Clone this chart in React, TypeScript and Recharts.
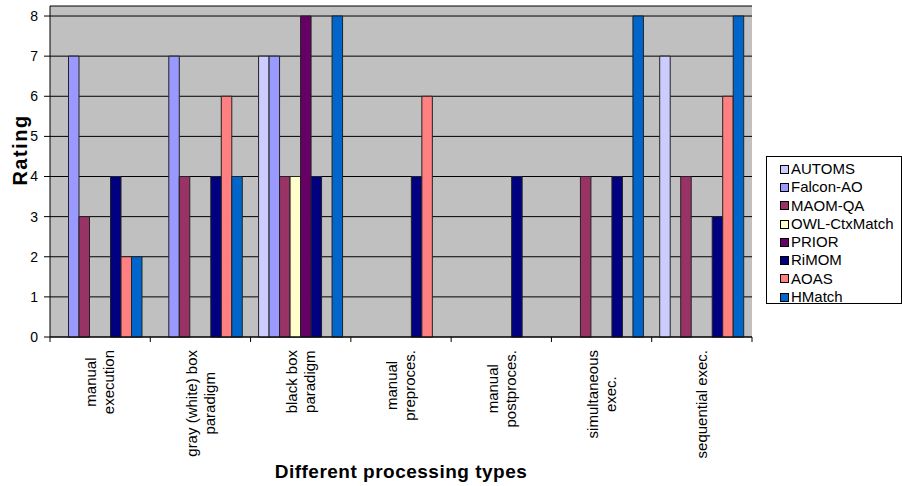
import React from "react";
import { BarChart, Bar, XAxis, YAxis, CartesianGrid } from "recharts";

const categories = [
  "manual execution",
  "gray (white) box paradigm",
  "black box paradigm",
  "manual preproces.",
  "manual postproces.",
  "simultaneous exec.",
  "sequential exec."
];

// how each category label is broken into lines under the axis
const tickLabels = [
  ["manual", "execution"],
  ["gray (white) box", "paradigm"],
  ["black box", "paradigm"],
  ["manual", "preproces."],
  ["manual", "postproces."],
  ["simultaneous", "exec."],
  ["sequential exec."]
];

const seriesNames = ["AUTOMS", "Falcon-AO", "MAOM-QA", "OWL-CtxMatch", "PRIOR", "RiMOM", "AOAS", "HMatch"];
const seriesColors = ["#CCCCFF", "#9999FF", "#993366", "#FFFFCC", "#660066", "#000080", "#FF8080", "#0066CC"];

const automs = [0, 0, 7, 0, 0, 0, 7];
const falconAO = [7, 7, 7, 0, 0, 0, 0];
const maomQA = [3, 4, 4, 0, 0, 4, 4];
const owlCtxMatch = [0, 0, 4, 0, 0, 0, 0];
const prior = [0, 0, 8, 0, 0, 0, 0];
const rimom = [4, 4, 4, 4, 4, 4, 3];
const aoas = [2, 6, 0, 6, 0, 0, 6];
const hmatch = [2, 4, 8, 0, 0, 8, 8];

const seriesValues = [automs, falconAO, maomQA, owlCtxMatch, prior, rimom, aoas, hmatch];

const yTicks = [0, 1, 2, 3, 4, 5, 6, 7, 8];

const rows = categories.map((name, i) => {
  const row: { [key: string]: string | number } = { name };
  seriesNames.forEach((s, j) => {
    row[s] = seriesValues[j][i];
  });
  return row;
});

const FONT = "'Liberation Sans', Arial, sans-serif";
const W = 902;
const H = 486;
const MARGIN = { top: 6, right: 150, bottom: 0, left: 0 };
const Y_AXIS_W = 50;
const X_AXIS_H = 149;
const TICK_FONT = 15;
const LINE_H = 18;

let ctx: CanvasRenderingContext2D | null = null;
function textWidth(s: string) {
  if (!ctx) ctx = document.createElement("canvas").getContext("2d");
  if (!ctx) return s.length * 7.5;
  ctx.font = `${TICK_FONT}px 'Liberation Sans'`;
  return ctx.measureText(s).width;
}

function CategoryTick(props: any) {
  const { x, y, payload, index } = props;
  const plotW = W - MARGIN.left - MARGIN.right - Y_AXIS_W;
  const half = payload && payload.offset ? payload.offset : plotW / categories.length / 2;
  const lines = tickLabels[index] || [String(payload.value)];
  const maxLen = Math.max(...lines.map(textWidth));
  const cy = y + 13 + maxLen / 2;
  const n = lines.length;
  return (
    <g>
      <line x1={x - half} x2={x - half} y1={y} y2={y + 5} stroke="#000" />
      {index === categories.length - 1 && (
        <line x1={x + half} x2={x + half} y1={y} y2={y + 5} stroke="#000" />
      )}
      <g transform={`translate(${x}, ${cy}) rotate(-90)`}>
        {lines.map((ln, i) => (
          <text
            key={i}
            x={0}
            y={(i - (n - 1) / 2) * LINE_H + TICK_FONT * 0.35}
            textAnchor="middle"
            fontSize={TICK_FONT}
            fontFamily={FONT}
            fill="#000"
          >
            {ln}
          </text>
        ))}
      </g>
    </g>
  );
}

function Legend8() {
  return (
    <div
      style={{
        position: "absolute",
        left: 766,
        top: 156,
        width: 136,
        height: 148,
        boxSizing: "border-box",
        border: "1px solid #000",
        background: "#fff",
        paddingTop: 3,
        paddingLeft: 13,
        fontFamily: FONT,
        fontSize: 15
      }}
    >
      {seriesNames.map((s, i) => (
        <div key={s} style={{ height: 18.3, lineHeight: "18.3px", display: "flex", alignItems: "center", whiteSpace: "nowrap" }}>
          <span
            style={{
              display: "inline-block",
              width: 9,
              height: 9,
              boxSizing: "border-box",
              border: "1px solid #000",
              background: seriesColors[i],
              marginRight: 2
            }}
          />
          <span>{s}</span>
        </div>
      ))}
    </div>
  );
}

export default function App() {
  return (
    <div style={{ position: "absolute", left: 0, top: 0, width: W, height: H, background: "#fff", fontFamily: FONT }}>
      <BarChart width={W} height={H} data={rows} margin={MARGIN} barSize={10.5} barGap={0}>
        <CartesianGrid vertical={false} stroke="#000" fill="#C0C0C0" fillOpacity={1} />
        <XAxis
          dataKey="name"
          height={X_AXIS_H}
          interval={0}
          tickLine={false}
          tickSize={0}
          tickMargin={0}
          axisLine={{ stroke: "#000" }}
          tick={<CategoryTick />}
          label={{
            value: "Different processing types",
            position: "insideBottom",
            offset: 8,
            fill: "#000",
            fontSize: 19,
            fontWeight: "bold",
            fontFamily: FONT,
            letterSpacing: 0.5
          }}
        />
        <YAxis
          domain={[0, 8.25]}
          ticks={yTicks}
          interval={0}
          width={Y_AXIS_W}
          tickSize={6}
          tickMargin={6}
          axisLine={{ stroke: "#000" }}
          tickLine={{ stroke: "#000" }}
          tick={{ fill: "#000", fontSize: 14, fontFamily: FONT }}
          label={{
            content: () => (
              <text
                x={27}
                y={150}
                transform="rotate(-90, 27, 150)"
                textAnchor="middle"
                fontSize={20}
                fontWeight="bold"
                letterSpacing={1.5}
                fontFamily={FONT}
                fill="#000"
              >
                Rating
              </text>
            )
          }}
        />
        <YAxis yAxisId="r" orientation="right" width={0} tick={false} tickLine={false} axisLine={{ stroke: "#808080" }} />
        {seriesNames.map((s, i) => (
          <Bar key={s} dataKey={s} fill={seriesColors[i]} stroke="#222" strokeWidth={1} isAnimationActive={false} />
        ))}
      </BarChart>
      <Legend8 />
    </div>
  );
}
